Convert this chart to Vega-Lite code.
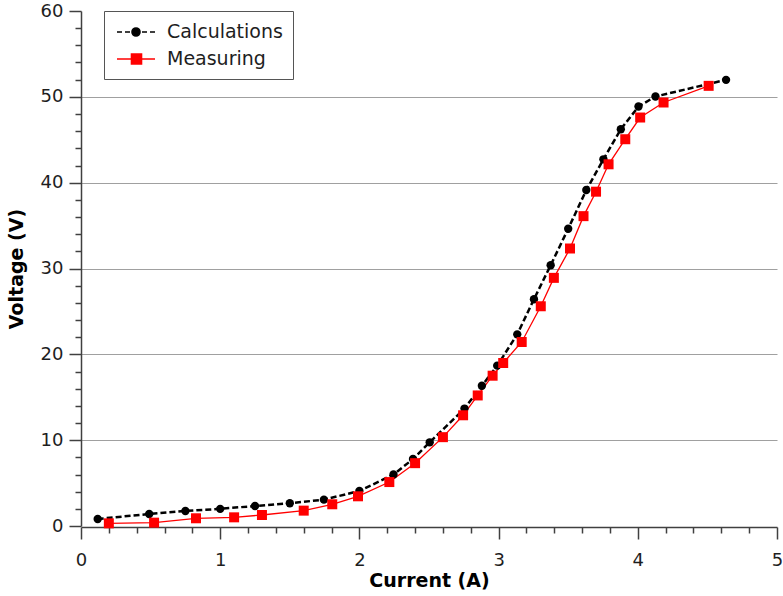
{
  "$schema": "https://vega.github.io/schema/vega-lite/v6.json",
  "width": 696,
  "height": 515,
  "autosize": "none",
  "padding": {"left": 81, "top": 11, "right": 6, "bottom": 70},
  "background": "white",
  "config": {
    "view": {"stroke": null},
    "font": "DejaVu Sans",
    "axis": {
      "labelFont": "DejaVu Sans",
      "labelFontSize": 18,
      "labelColor": "#1e1e1e",
      "titleFont": "DejaVu Sans",
      "titleFontSize": 19,
      "titleFontWeight": "bold",
      "titleColor": "#000000",
      "domainColor": "#404040",
      "domainWidth": 1.5,
      "tickColor": "#404040",
      "tickWidth": 1.5,
      "labelOverlap": false,
      "labelFlush": false
    },
    "legend": {
      "labelFont": "DejaVu Sans",
      "labelFontSize": 19,
      "labelColor": "#1e1e1e"
    }
  },
  "data": {
    "values": [
      {"series": "Calculations", "current": 0.12, "voltage": 0.82},
      {"series": "Calculations", "current": 0.49, "voltage": 1.4},
      {"series": "Calculations", "current": 0.75, "voltage": 1.75},
      {"series": "Calculations", "current": 1.0, "voltage": 2.0},
      {"series": "Calculations", "current": 1.25, "voltage": 2.33},
      {"series": "Calculations", "current": 1.5, "voltage": 2.65},
      {"series": "Calculations", "current": 1.745, "voltage": 3.07},
      {"series": "Calculations", "current": 2.0, "voltage": 4.08},
      {"series": "Calculations", "current": 2.245, "voltage": 6.0},
      {"series": "Calculations", "current": 2.385, "voltage": 7.8},
      {"series": "Calculations", "current": 2.505, "voltage": 9.75},
      {"series": "Calculations", "current": 2.755, "voltage": 13.68},
      {"series": "Calculations", "current": 2.88, "voltage": 16.34},
      {"series": "Calculations", "current": 2.99, "voltage": 18.68},
      {"series": "Calculations", "current": 3.134, "voltage": 22.33},
      {"series": "Calculations", "current": 3.254, "voltage": 26.42},
      {"series": "Calculations", "current": 3.374, "voltage": 30.38},
      {"series": "Calculations", "current": 3.5, "voltage": 34.63},
      {"series": "Calculations", "current": 3.63, "voltage": 39.14},
      {"series": "Calculations", "current": 3.753, "voltage": 42.72},
      {"series": "Calculations", "current": 3.878, "voltage": 46.22},
      {"series": "Calculations", "current": 4.005, "voltage": 48.87},
      {"series": "Calculations", "current": 4.127, "voltage": 50.04},
      {"series": "Calculations", "current": 4.634, "voltage": 51.98},
      {"series": "Measuring", "current": 0.2, "voltage": 0.31},
      {"series": "Measuring", "current": 0.525, "voltage": 0.39},
      {"series": "Measuring", "current": 0.826, "voltage": 0.9},
      {"series": "Measuring", "current": 1.1, "voltage": 1.01},
      {"series": "Measuring", "current": 1.3, "voltage": 1.28},
      {"series": "Measuring", "current": 1.6, "voltage": 1.79},
      {"series": "Measuring", "current": 1.805, "voltage": 2.53},
      {"series": "Measuring", "current": 1.99, "voltage": 3.46},
      {"series": "Measuring", "current": 2.215, "voltage": 5.12},
      {"series": "Measuring", "current": 2.4, "voltage": 7.32},
      {"series": "Measuring", "current": 2.6, "voltage": 10.35},
      {"series": "Measuring", "current": 2.745, "voltage": 12.9},
      {"series": "Measuring", "current": 2.85, "voltage": 15.21},
      {"series": "Measuring", "current": 2.957, "voltage": 17.51},
      {"series": "Measuring", "current": 3.033, "voltage": 18.99},
      {"series": "Measuring", "current": 3.166, "voltage": 21.44},
      {"series": "Measuring", "current": 3.303, "voltage": 25.6},
      {"series": "Measuring", "current": 3.397, "voltage": 28.91},
      {"series": "Measuring", "current": 3.513, "voltage": 32.33},
      {"series": "Measuring", "current": 3.61, "voltage": 36.1},
      {"series": "Measuring", "current": 3.7, "voltage": 38.95},
      {"series": "Measuring", "current": 3.79, "voltage": 42.14},
      {"series": "Measuring", "current": 3.91, "voltage": 45.06},
      {"series": "Measuring", "current": 4.017, "voltage": 47.59},
      {"series": "Measuring", "current": 4.185, "voltage": 49.34},
      {"series": "Measuring", "current": 4.509, "voltage": 51.28}
    ]
  },
  "encoding": {
    "x": {
      "field": "current",
      "type": "quantitative",
      "scale": {"domain": [0, 5], "nice": false, "zero": false},
      "axis": {
        "title": "Current (A)",
        "offset": 1,
        "grid": false,
        "values": [0, 0.2, 0.4, 0.6, 0.8, 1, 1.2, 1.4, 1.6, 1.8, 2, 2.2, 2.4, 2.6, 2.8, 3, 3.2, 3.4, 3.6, 3.8, 4, 4.2, 4.4, 4.6, 4.8, 5],
        "labelExpr": "abs(datum.value - round(datum.value)) < 0.001 ? format(datum.value, 'd') : ''",
        "tickSize": {"condition": {"test": "abs(datum.value - round(datum.value)) > 0.001", "value": 6}, "value": 12},
        "labelPadding": 12,
        "titlePadding": 2
      }
    },
    "y": {
      "field": "voltage",
      "type": "quantitative",
      "scale": {"domain": [0, 60], "nice": false},
      "axis": {
        "title": "Voltage (V)",
        "grid": true,
        "gridColor": "#a0a0a0",
        "gridWidth": 1.2,
        "gridOpacity": {"condition": {"test": "datum.value % 10 !== 0 || datum.value === 0 || datum.value === 60", "value": 0}, "value": 1},
        "values": [0, 2, 4, 6, 8, 10, 12, 14, 16, 18, 20, 22, 24, 26, 28, 30, 32, 34, 36, 38, 40, 42, 44, 46, 48, 50, 52, 54, 56, 58, 60],
        "labelExpr": "datum.value % 10 === 0 ? datum.label : ''",
        "tickSize": {"condition": {"test": "datum.value % 10 !== 0", "value": 6}, "value": 12},
        "labelPadding": 6,
        "titlePadding": 14
      }
    },
    "color": {
      "field": "series",
      "type": "nominal",
      "scale": {"domain": ["Calculations", "Measuring"], "range": ["#000000", "#ff0000"]},
      "legend": {
        "title": null,
        "orient": "none",
        "legendX": 23,
        "legendY": 0,
        "strokeColor": "#555555",
        "fillColor": "white",
        "padding": 10,
        "symbolSize": 400,
        "labelOffset": 31,
        "rowPadding": 6,
        "encode": {
          "symbols": {
            "update": {
              "shape": {"signal": "datum.value === 'Calculations' ? 'M-0.8,0H-0.3M0,0H0.5M1.7,0H2.2M2.5,0H3M1.5,0A0.4,0.4,0,1,1,0.7,0A0.4,0.4,0,1,1,1.5,0Z' : 'M-0.8,0H3M0.65,-0.5H1.65V0.5H0.65Z'"},
              "size": {"value": 400},
              "strokeWidth": {"value": 1.6},
              "strokeDash": {"value": []},
              "opacity": {"value": 1},
              "fillOpacity": {"value": 1},
              "strokeOpacity": {"value": 1}
            }
          }
        }
      }
    }
  },
  "layer": [
    {
      "transform": [{"filter": "datum.series === 'Calculations'"}],
      "mark": {"type": "line", "strokeDash": [6, 3], "strokeWidth": 2.5}
    },
    {
      "transform": [{"filter": "datum.series === 'Measuring'"}],
      "mark": {"type": "line", "strokeWidth": 1.3}
    },
    {
      "transform": [{"filter": "datum.series === 'Calculations'"}],
      "mark": {"type": "point", "shape": "circle", "size": 70, "filled": true, "opacity": 1}
    },
    {
      "transform": [{"filter": "datum.series === 'Measuring'"}],
      "mark": {"type": "point", "shape": "square", "size": 100, "filled": true, "opacity": 1}
    }
  ]
}
